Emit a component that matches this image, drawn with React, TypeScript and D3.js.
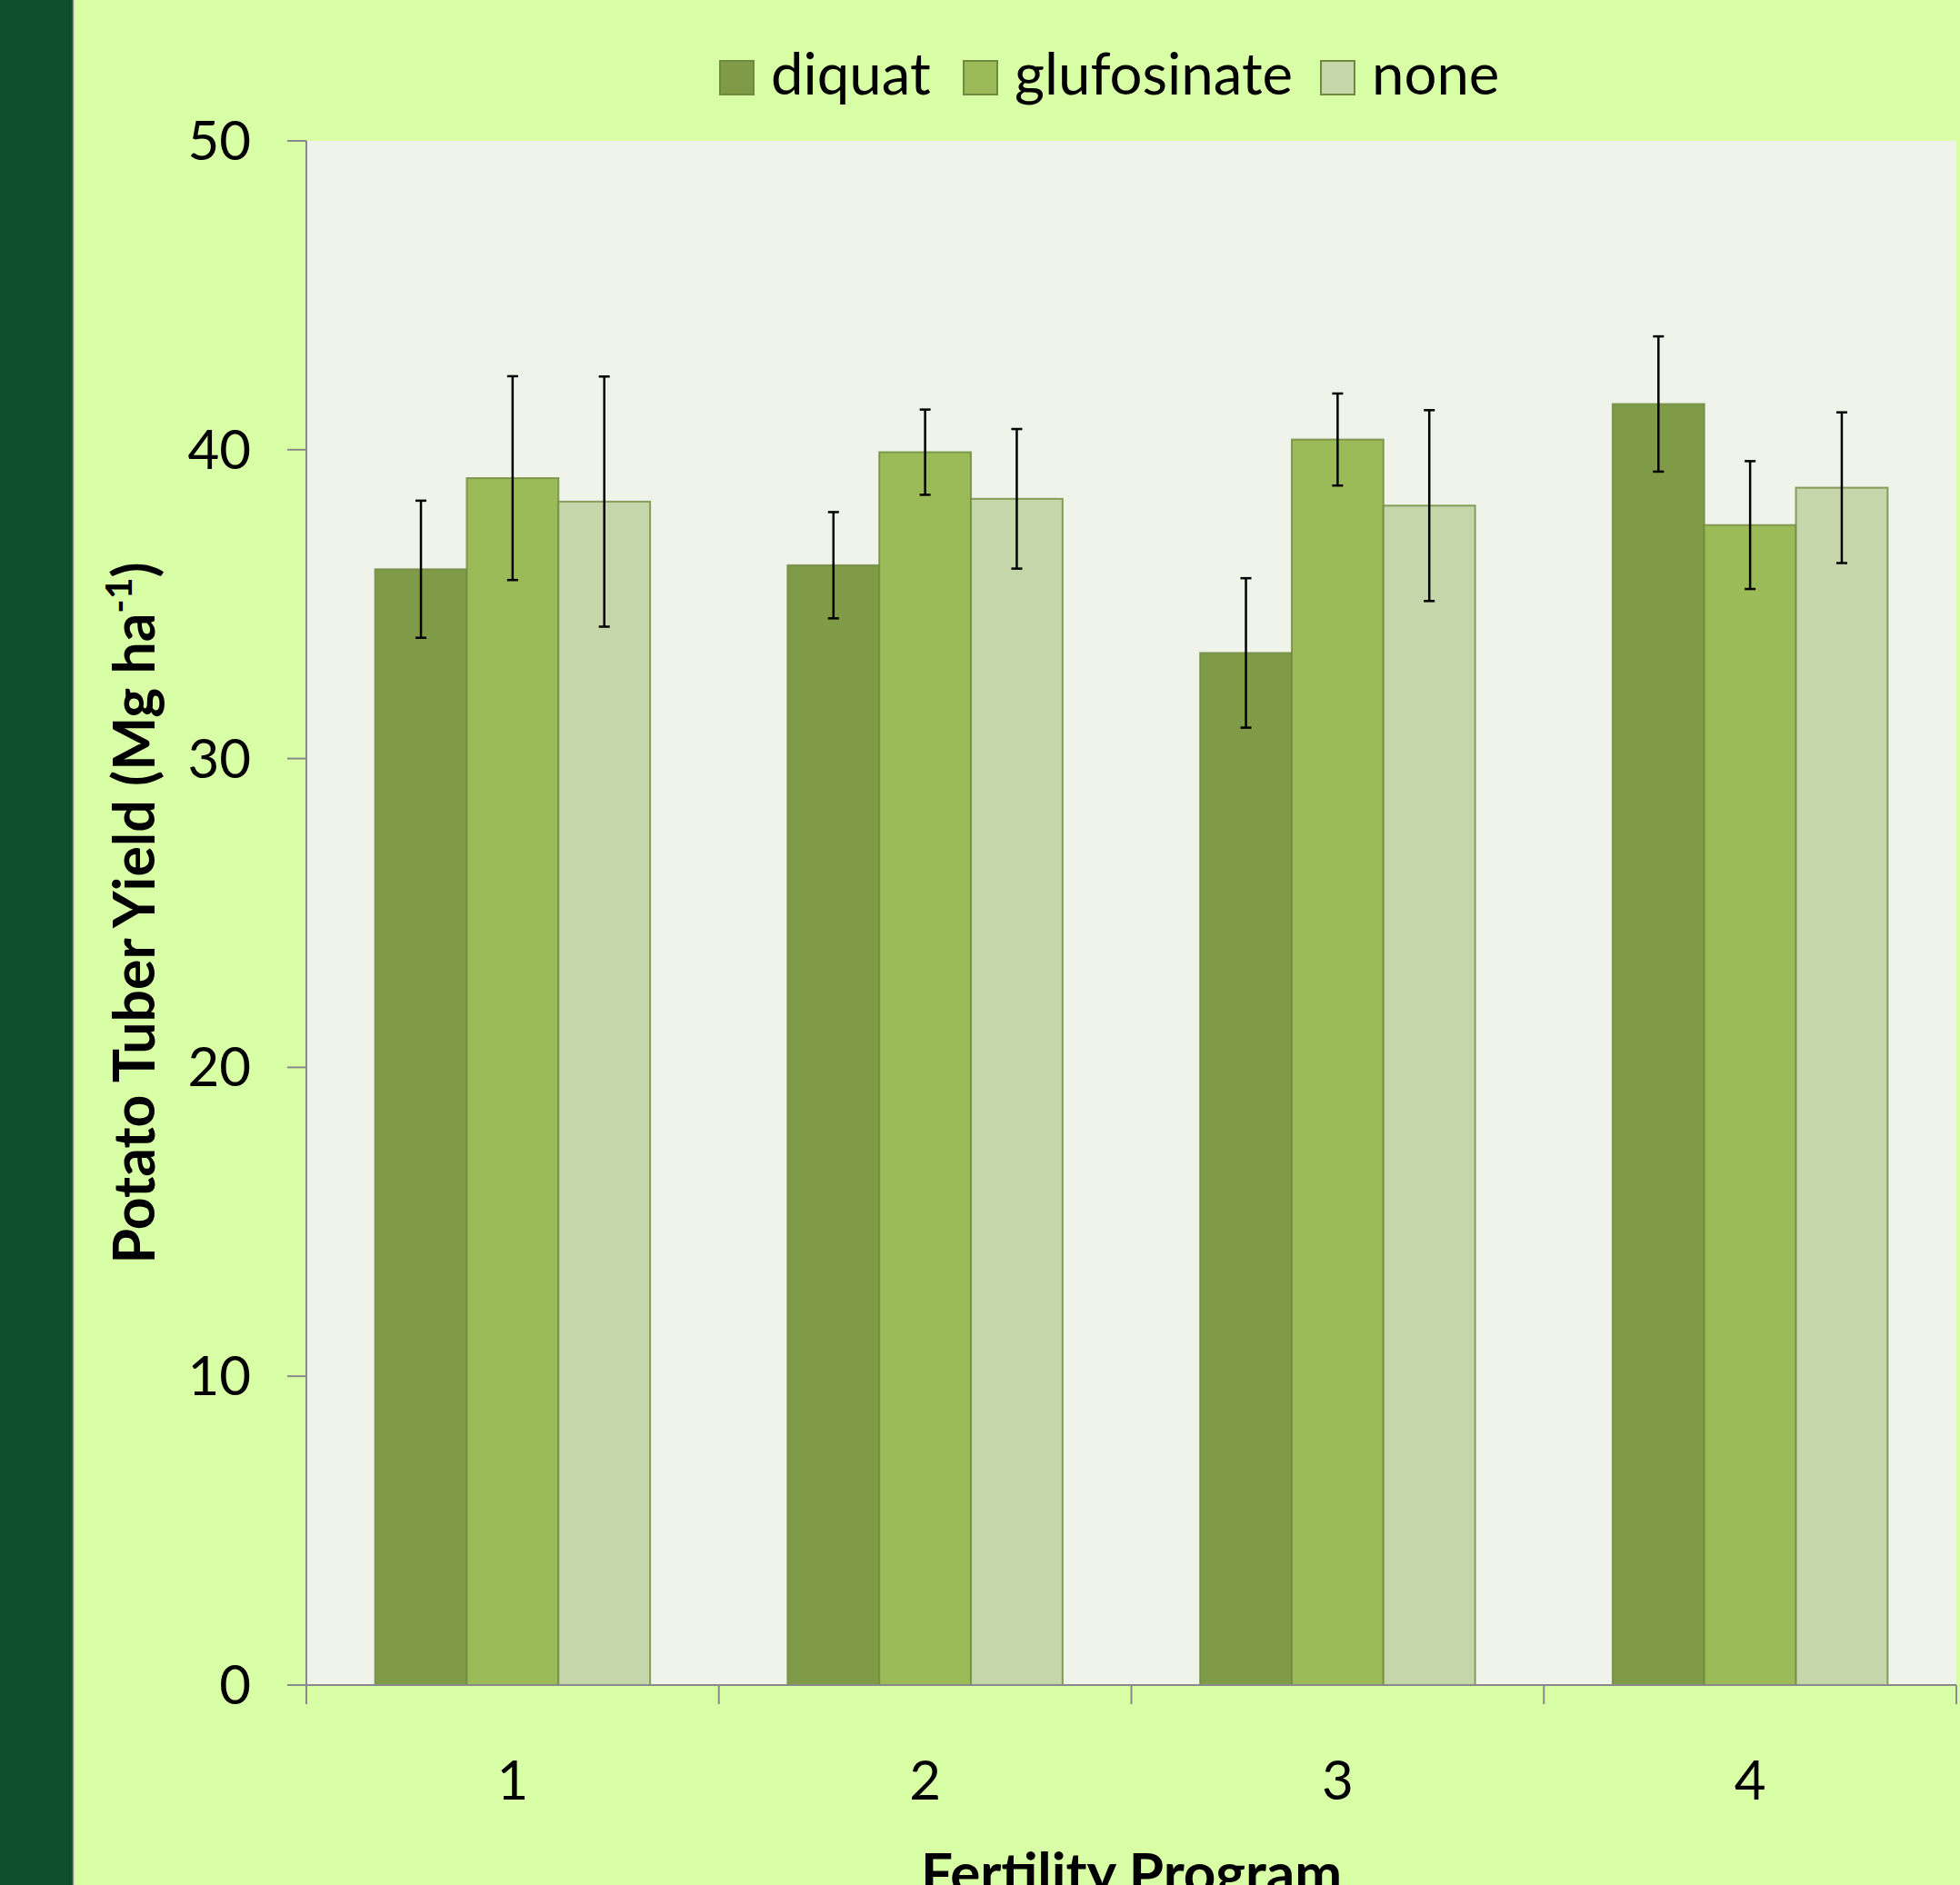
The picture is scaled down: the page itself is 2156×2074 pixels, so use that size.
import React from "react";
import * as d3 from "d3";

const categories = ["1", "2", "3", "4"];
const seriesNames = ["diquat", "glufosinate", "none"];
const diquat = [36.13, 36.26, 33.42, 41.48];
const diquatErr = [2.22, 1.72, 2.42, 2.19];
const glufosinate = [39.08, 39.92, 40.33, 37.56];
const glufosinateErr = [3.3, 1.38, 1.49, 2.07];
const none = [38.32, 38.41, 38.19, 38.77];
const noneErr = [4.05, 2.26, 3.09, 2.44];
const yTicks = [0, 10, 20, 30, 40, 50];

const seriesColors = ["#7F9B48", "#9BBB59", "#C6D6AB"];
const values = [diquat, glufosinate, none];
const errors = [diquatErr, glufosinateErr, noneErr];

const W = 2156;
const H = 2074;
const plot = { left: 337, right: 2152, top: 155, bottom: 1854 };
const FONT = "Lato, 'Open Sans', sans-serif";

export default function App() {
  const x = d3.scaleBand<string>().domain(categories).range([plot.left, plot.right]).paddingInner(0).paddingOuter(0);
  const y = d3.scaleLinear().domain([0, 50]).range([plot.bottom, plot.top]);
  const bw = x.bandwidth() / 4.5;
  const inner = d3.scaleBand<string>().domain(seriesNames).range([0, 3 * bw]);
  const groupOffset = (x.bandwidth() - 3 * bw) / 2;

  // legend layout (approximate text widths at 64px Lato)
  const legendTextW = [172, 297, 135];
  let lx = 792;
  const legendItems = seriesNames.map((n, i) => {
    const item = { name: n, x: lx, color: seriesColors[i] };
    lx += 37 + 19 + legendTextW[i] + 40;
    return item;
  });

  const xTickPositions = [...categories.map((c) => x(c) as number), plot.right];

  return (
    <svg width={W} height={H} style={{ position: "absolute", left: 0, top: 0 }} fontFamily={FONT}>
      <rect x={0} y={0} width={W} height={H} fill="#D9FFA6" />
      <rect x={0} y={0} width={80} height={H} fill="#0F4F2B" />
      <line x1={80.5} x2={80.5} y1={0} y2={H} stroke="#8A8A8A" strokeWidth={1.5} />
      <rect x={plot.left} y={plot.top} width={plot.right - plot.left} height={plot.bottom - plot.top} fill="#F0F3E9" />

      {/* bars */}
      {seriesNames.map((s, si) =>
        categories.map((c, ci) => {
          const bx = (x(c) as number) + groupOffset + (inner(s) as number);
          const v = values[si][ci];
          return (
            <rect
              key={s + c}
              x={bx}
              y={y(v)}
              width={bw}
              height={y(0) - y(v)}
              fill={seriesColors[si]}
              stroke="#71893F"
              strokeOpacity={0.8}
              strokeWidth={2}
            />
          );
        })
      )}

      {/* error bars */}
      {seriesNames.map((s, si) =>
        categories.map((c, ci) => {
          const cx = (x(c) as number) + groupOffset + (inner(s) as number) + bw / 2;
          const v = values[si][ci];
          const e = errors[si][ci];
          const y1 = y(v + e);
          const y2 = y(v - e);
          return (
            <g key={"e" + s + c} stroke="#000" strokeWidth={2.5}>
              <line x1={cx} x2={cx} y1={y1} y2={y2} />
              <line x1={cx - 6} x2={cx + 6} y1={y1} y2={y1} />
              <line x1={cx - 6} x2={cx + 6} y1={y2} y2={y2} />
            </g>
          );
        })
      )}

      {/* axes */}
      <g stroke="#898989" strokeWidth={2}>
        <line x1={plot.left} x2={plot.left} y1={plot.top} y2={plot.bottom + 21} />
        <line x1={plot.left - 21} x2={plot.right} y1={plot.bottom} y2={plot.bottom} />
        {yTicks.map((t) => (
          <line key={"yt" + t} x1={plot.left - 21} x2={plot.left} y1={y(t)} y2={y(t)} />
        ))}
        {xTickPositions.map((p, i) => (
          <line key={"xt" + i} x1={p} x2={p} y1={plot.bottom} y2={plot.bottom + 21} />
        ))}
      </g>

      {yTicks.map((t) => (
        <text key={"yl" + t} x={276} y={y(t)} dy="0.35em" textAnchor="end" fontSize={60} fill="#000">
          {t}
        </text>
      ))}
      {categories.map((c) => (
        <text key={"xl" + c} x={(x(c) as number) + x.bandwidth() / 2} y={1980} textAnchor="middle" fontSize={60} fill="#000">
          {c}
        </text>
      ))}

      {/* axis titles */}
      <text
        transform={`translate(170, ${(plot.top + plot.bottom) / 2}) rotate(-90)`}
        textAnchor="middle"
        fontSize={62.5}
        fontWeight="bold"
        fill="#000"
      >
        Potato Tuber Yield (Mg ha
        <tspan fontSize={41} dy={-25}>-1</tspan>
        <tspan dy={25}>)</tspan>
      </text>
      <text x={(plot.left + plot.right) / 2} y={2083} textAnchor="middle" fontSize={62} fontWeight="bold" fill="#000">
        Fertility Program
      </text>

      {/* legend */}
      {legendItems.map((it) => (
        <g key={it.name}>
          <rect x={it.x} y={67} width={37} height={37} fill={it.color} stroke="#71893F" strokeWidth={2} />
          <text x={it.x + 37 + 19} y={104} fontSize={63.5} fill="#000">
            {it.name}
          </text>
        </g>
      ))}
    </svg>
  );
}
